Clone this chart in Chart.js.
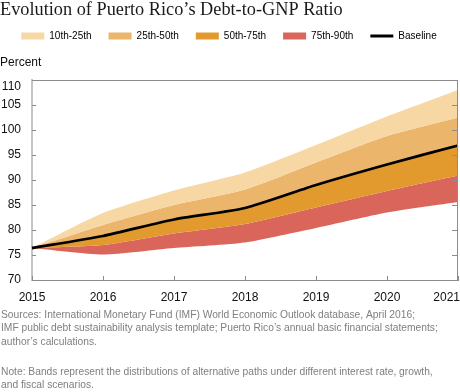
<!DOCTYPE html>
<html>
<head>
<meta charset="utf-8">
<script src="https://cdn.jsdelivr.net/npm/chart.js@4.4.1/dist/chart.umd.min.js"></script>
<style>
  html, body { margin: 0; padding: 0; background: #fff; }
  #wrap { position: relative; width: 460px; height: 392px; }
</style>
</head>
<body>
<div id="wrap"><canvas id="debt-chart"></canvas></div>
<script>
// data
const years = ["2015", "2016", "2017", "2018", "2019", "2020", "2021"];
const yTicks = [70, 75, 80, 85, 90, 95, 100, 105, 110];
const pct10 = [76.4, 83.4, 87.9, 91.5, 97.0, 102.7, 108.0];
const pct25 = [76.4, 81.0, 85.0, 88.1, 93.5, 98.8, 102.5];
const baseline = [76.4, 78.8, 82.1, 84.4, 89.0, 93.1, 96.9];
const pct75 = [76.4, 77.0, 79.3, 81.2, 84.5, 87.8, 90.9];
const pct90 = [76.4, 75.1, 76.4, 77.5, 80.4, 83.5, 85.6];
const bandNames = ["10th-25th", "25th-50th", "50th-75th", "75th-90th"];
const bandColors = ["#F7D7A4", "#EBB56C", "#E29A2E", "#DA655A"];

const sourceLines = [
  "Sources: International Monetary Fund (IMF) World Economic Outlook database, April 2016;",
  "IMF public debt sustainability analysis template; Puerto Rico\u2019s annual basic financial statements;",
  "author\u2019s calculations.",
];
const noteLines = [
  "Note: Bands represent the distributions of alternative paths under different interest rate, growth,",
  "and fiscal scenarios.",
];

const SANS = "'Liberation Sans', Arial, sans-serif";
const frameColor = "#8c8c8c";
const TENSION = 0.2;

function band(data, i, target) {
  return {
    data: data,
    backgroundColor: bandColors[i],
    borderWidth: 0,
    pointRadius: 0,
    fill: target,
    tension: TENSION,
    order: 1,
  };
}

// frame, inward ticks, axis labels and notes
const decorPlugin = {
  id: "decor",
  afterDatasetsDraw(chart) {
    const ctx = chart.ctx;
    const a = chart.chartArea;
    const xs = chart.scales.x;
    const ys = chart.scales.y;
    ctx.save();
    ctx.strokeStyle = frameColor;
    ctx.lineWidth = 1;
    ctx.beginPath();
    ctx.moveTo(a.left, a.top + 0.5);
    ctx.lineTo(a.right - 0.5, a.top + 0.5);
    ctx.lineTo(a.right - 0.5, a.bottom);
    yTicks.forEach((v) => {
      const py = Math.round(ys.getPixelForValue(v)) + 0.5;
      ctx.moveTo(a.left, py);
      ctx.lineTo(a.left + 4, py);
      ctx.moveTo(a.right - 6, py);
      ctx.lineTo(a.right, py);
    });
    years.forEach((y, i) => {
      const px = Math.round(xs.getPixelForValue(i)) + 0.5;
      ctx.moveTo(px, a.bottom);
      ctx.lineTo(px, a.bottom - 4);
    });
    ctx.stroke();
    ctx.restore();
  },
  afterDraw(chart) {
    const ctx = chart.ctx;
    const a = chart.chartArea;
    const xs = chart.scales.x;
    const ys = chart.scales.y;
    ctx.save();
    ctx.font = "12px " + SANS;
    ctx.fillStyle = "#111";
    ctx.textBaseline = "middle";

    // y labels, top one kept inside the frame
    ctx.textAlign = "right";
    yTicks.forEach((v) => {
      const py = Math.max(ys.getPixelForValue(v), a.top + 6.5);
      ctx.fillText(String(v), a.left - 11, py);
    });

    // x labels, last one kept inside the canvas
    ctx.textAlign = "center";
    years.forEach((y, i) => {
      const w = ctx.measureText(y).width;
      let px = xs.getPixelForValue(i);
      px = Math.min(px, chart.width - w / 2);
      px = Math.max(px, w / 2);
      ctx.fillText(y, px, a.bottom + 18);
    });

    ctx.font = "10.25px " + SANS;
    ctx.fillStyle = "#7f7f7f";
    ctx.textAlign = "left";
    sourceLines.forEach((line, i) => {
      ctx.fillText(line, 1, 315 + i * 13.4);
    });
    noteLines.forEach((line, i) => {
      ctx.fillText(line, 1, 371.7 + i * 13.4);
    });
    ctx.restore();
  },
};

const ctx = document.getElementById("debt-chart").getContext("2d");
new Chart(ctx, {
  type: "line",
  data: {
    labels: years,
    datasets: [
      band(pct10, 0, 1),
      band(pct25, 1, 2),
      band(baseline, 2, 3),
      band(pct75, 3, 4),
      { data: pct90, borderWidth: 0, pointRadius: 0, fill: false, tension: TENSION, order: 1 },
      {
        data: baseline,
        borderColor: "#000",
        borderWidth: 2.8,
        pointRadius: 0,
        fill: false,
        tension: TENSION,
        order: 0,
      },
    ],
  },
  options: {
    responsive: true,
    maintainAspectRatio: false,
    devicePixelRatio: 1,
    animation: false,
    events: [],
    layout: { padding: { top: 0, right: 2, bottom: 82, left: 0 } },
    scales: {
      x: {
        type: "category",
        offset: false,
        grid: { display: false },
        border: { display: true, color: frameColor, width: 1 },
        ticks: { display: false },
        afterFit: (s) => { s.height = 30; },
      },
      y: {
        min: 70,
        max: 110,
        afterBuildTicks: (s) => { s.ticks = yTicks.map((v) => ({ value: v })); },
        grid: { display: false, drawTicks: false },
        border: { display: true, color: "#c4c4c4", width: 2 },
        ticks: { display: false },
        afterFit: (s) => { s.width = 32; },
      },
    },
    plugins: {
      tooltip: { enabled: false },
      title: {
        display: true,
        text: "Evolution of Puerto Rico\u2019s Debt-to-GNP Ratio",
        align: "start",
        color: "#1a1a1a",
        font: { family: "'Liberation Serif', 'DejaVu Serif', serif", size: 18.3, weight: "normal", lineHeight: 1 },
        padding: { top: 0.7, bottom: -5 },
      },
      legend: {
        display: true,
        position: "top",
        weight: 1600,
        labels: {
          font: { family: SANS, size: 10 },
          color: "#111",
          usePointStyle: true,
          pointStyleWidth: 23,
          boxHeight: 7,
          padding: 17,
          generateLabels: () => {
            const items = bandNames.map((name, i) => ({
              text: name,
              fillStyle: bandColors[i],
              strokeStyle: bandColors[i],
              lineWidth: 0,
              pointStyle: "rect",
              hidden: false,
              datasetIndex: i,
            }));
            items.push({
              text: "Baseline",
              fillStyle: "#000",
              strokeStyle: "#000",
              lineWidth: 3,
              pointStyle: "line",
              hidden: false,
              datasetIndex: 5,
            });
            return items;
          },
        },
      },
      subtitle: {
        display: true,
        text: "Percent",
        align: "start",
        color: "#111",
        font: { family: SANS, size: 12, lineHeight: 1.2 },
        padding: { top: 4.8, bottom: 9.8 },
      },
    },
  },
  plugins: [decorPlugin],
});
</script>
</body>
</html>
